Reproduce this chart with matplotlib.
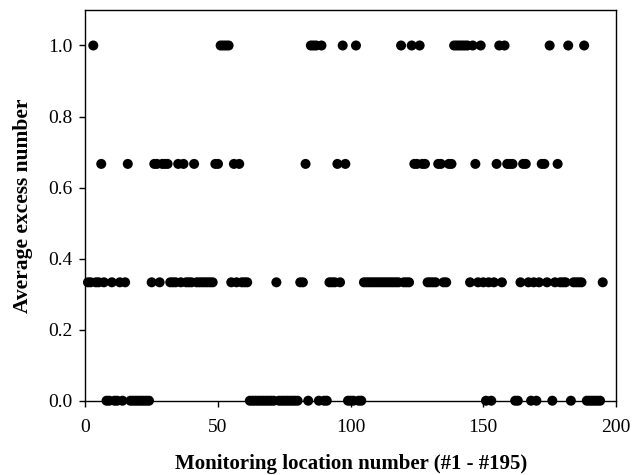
import matplotlib
matplotlib.use("Agg")
import matplotlib.pyplot as plt

# Monitoring locations grouped by their average excess number
levels = [0.0, 1/3, 2/3, 1.0]
loc_level_0 = [8, 9, 11, 12, 14, 17, 18, 19, 20, 21, 22, 23, 24,
               62, 63, 64, 65, 66, 67, 68, 69, 70, 71, 73, 74, 75, 76, 77, 78, 79, 80,
               84, 88, 90, 91, 99, 100, 101, 103, 104,
               151, 153, 162, 163, 168, 170, 176, 183,
               189, 190, 191, 192, 193, 194]
loc_level_1_3 = [1, 2, 4, 5, 7, 10, 13, 15, 25, 28, 32, 33, 34, 36, 38, 39, 40,
                 42, 43, 44, 45, 46, 47, 48, 55, 57, 59, 60, 61, 72, 81, 82,
                 92, 93, 94, 96,
                 105, 106, 107, 108, 109, 110, 111, 112, 113, 114, 115, 116, 117, 118,
                 120, 121, 122, 129, 130, 131, 132, 135, 136, 145, 148, 150, 152, 154,
                 157, 164, 167, 169, 171, 174, 177, 179, 180, 181, 184, 185, 186, 187, 195]
loc_level_2_3 = [6, 16, 26, 27, 29, 30, 31, 35, 37, 41, 49, 50, 56, 58, 83, 95, 98,
                 124, 125, 127, 128, 133, 134, 137, 138, 147, 155, 159, 160, 161,
                 165, 166, 172, 173, 178]
loc_level_1 = [3, 51, 52, 53, 54, 85, 86, 87, 89, 97, 102, 119, 123, 126,
               139, 140, 141, 142, 143, 144, 146, 149, 156, 158, 175, 182, 188]

x_ticks = [0, 50, 100, 150, 200]
y_ticks = [0.0, 0.2, 0.4, 0.6, 0.8, 1.0]

plt.rcParams['font.family'] = ['Liberation Serif', 'DejaVu Serif']

fig = plt.figure(figsize=(6.43, 4.75), dpi=100)
ax = fig.add_axes([0.1327, 0.1564, 0.958 - 0.1327, 0.979 - 0.1564])

groups = [loc_level_0, loc_level_1_3, loc_level_2_3, loc_level_1]
for lvl, locs in zip(levels, groups):
    ax.scatter(locs, [lvl] * len(locs), s=52, color='black', edgecolors='none',
               clip_on=False, zorder=3)

ax.set_xlim(0, 200)
ax.set_ylim(0, 1.1)
ax.set_xticks(x_ticks)
ax.set_yticks(y_ticks)
ax.set_xticklabels([str(t) for t in x_ticks])
ax.set_yticklabels([f"{t:.1f}" for t in y_ticks])
ax.tick_params(axis='both', direction='out', length=4, width=1, labelsize=14,
               top=False, right=False)
ax.tick_params(axis='x', pad=9)
ax.tick_params(axis='y', pad=5)
for sp in ax.spines.values():
    sp.set_linewidth(1.0)
    sp.set_color('black')

ax.set_xlabel("Monitoring location number (#1 - #195)", fontsize=15,
              fontweight='bold', labelpad=13)
ax.set_ylabel("Average excess number", fontsize=15.5, fontweight='bold', labelpad=11)

fig.savefig("out.png", dpi=100)
